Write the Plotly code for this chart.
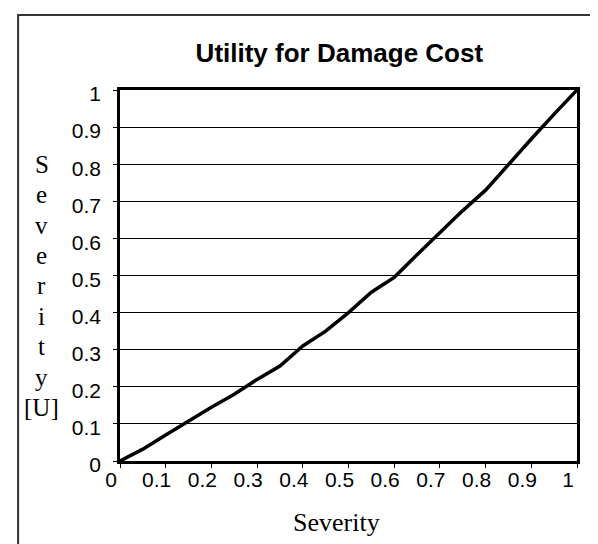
import plotly.graph_objects as go

# values
severity = [0, 0.05, 0.1, 0.15, 0.2, 0.25, 0.3, 0.35, 0.4, 0.45, 0.5,
            0.55, 0.6, 0.65, 0.7, 0.75, 0.8, 0.85, 0.9, 0.95, 1]
utility = [0, 0.032, 0.07, 0.108, 0.145, 0.18, 0.22, 0.256, 0.31, 0.35, 0.40,
           0.455, 0.495, 0.556, 0.615, 0.675, 0.73, 0.80, 0.868, 0.935, 1]
tick_vals = [0, 0.1, 0.2, 0.3, 0.4, 0.5, 0.6, 0.7, 0.8, 0.9, 1]
tick_text = ["0", "0.1", "0.2", "0.3", "0.4", "0.5", "0.6", "0.7", "0.8", "0.9", "1"]
y_title_letters = ["S", "e", "v", "e", "r", "i", "t", "y", "[U]"]

sans = "Liberation Sans, Arial, sans-serif"
serif = "Liberation Serif, Times New Roman, serif"

fig = go.Figure()
fig.add_trace(go.Scatter(x=severity, y=utility, mode="lines",
                         line=dict(color="black", width=3.5), showlegend=False))

axis_common = dict(
    range=[0, 1], tickvals=tick_vals, ticktext=tick_text,
    showline=True, linecolor="black", linewidth=2.5, mirror=True,
    ticks="outside", ticklen=4, tickcolor="black", tickwidth=1,
    zeroline=False, tickfont=dict(family=sans, size=21, color="black"),
)

fig.update_xaxes(**axis_common, showgrid=False, ticklabelshift=-9,
                 ticklabelstandoff=-6)
fig.update_yaxes(**axis_common, showgrid=True, gridcolor="black", gridwidth=1,
                 ticklabelshift=4, ticklabelstandoff=8)

# stacked vertical y-axis title, one letter per line
plot_h = 371.6
for i, ch in enumerate(y_title_letters):
    fig.add_annotation(text=ch, xref="paper", yref="paper",
                       x=-0.171, y=(453.3 - (156 + i * 30.5)) / plot_h,
                       showarrow=False, xanchor="center", yanchor="middle",
                       font=dict(family=serif, size=25, color="black"))

fig.add_annotation(text="Severity", xref="paper", yref="paper",
                   x=0.474, y=-0.166, showarrow=False, yanchor="middle",
                   font=dict(family=serif, size=26, color="black"))

# outer chart frame (right and bottom edges fall outside the picture)
fig.add_shape(type="rect", xref="paper", yref="paper",
              x0=-0.223, x1=1.3, y0=-0.5, y1=1.202,
              line=dict(color="#333333", width=2))

fig.update_layout(
    width=598, height=544,
    margin=dict(l=112, r=29, t=82, b=91),
    paper_bgcolor="white", plot_bgcolor="white",
    title=dict(text="<b>Utility for Damage Cost</b>", x=0.48, xref="paper",
               xanchor="center", y=1 - 45 / 544, yref="container",
               yanchor="middle",
               font=dict(family=sans, size=26, color="black")),
)

fig.write_html("out.html")
